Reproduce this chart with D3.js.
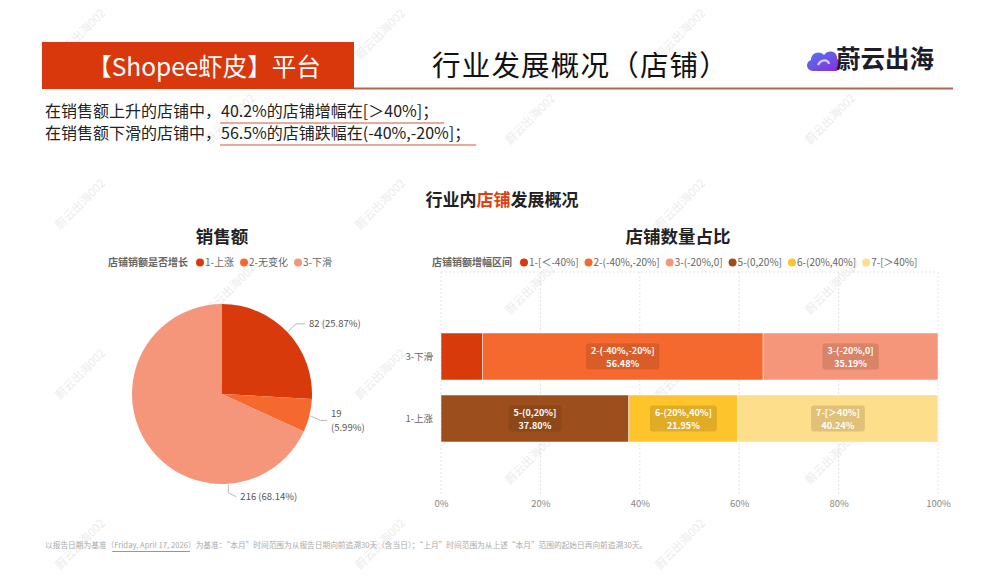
<!DOCTYPE html>
<html><head><meta charset="utf-8">
<script src="https://cdn.jsdelivr.net/npm/d3@7/dist/d3.min.js"></script>
<style>
body{margin:0;background:#fff;}
svg{display:block;font-family:"Noto Sans CJK SC","Noto Sans",sans-serif;}
</style></head>
<body><svg id="c" width="996" height="576"></svg>
<script>
// ---------- data ----------
const pieCategories = ["1-上涨", "2-无变化", "3-下滑"];
const pieValues = [82, 19, 216];
const pieColors = ["#d93a0b", "#f5692f", "#f5967a"];

const barRows = ["3-下滑", "1-上涨"];
const intervalNames = ["1-[＜-40%]", "2-(-40%,-20%]", "3-(-20%,0]", "5-(0,20%]", "6-(20%,40%]", "7-[＞40%]"];
const intervalColors = ["#d93a0b", "#f5692f", "#f5967a", "#9c4f1c", "#fdc52b", "#fddf8b"];
const barDown = [8.33, 56.48, 35.19, 0, 0, 0];   // 3-下滑
const barUp = [0, 0, 0, 37.80, 21.95, 40.24];    // 1-上涨
const xTicks = [0, 20, 40, 60, 80, 100];

const svg = d3.select("#c");
const FONT = '"Noto Sans CJK SC","Noto Sans",sans-serif';

// ---------- watermarks ----------
const wm = svg.append("g");
for (let r = 0; r < 7; r++) {
  for (let k = -1; k < 5; k++) {
    const x = 60 + k * 300 + (r % 2 ? 150 : 0);
    const y = 60 + r * 85;
    if (x < 5 || x + 60 > 990 || y > 570) continue;
    wm.append("text").attr("transform", `translate(${x},${y}) rotate(-45)`)
      .attr("font-size", 11.5).attr("fill", "#ececec").text("蔚云出海002");
  }
}

// ---------- header ----------
svg.append("rect").attr("x", 42).attr("y", 42).attr("width", 312).attr("height", 47).attr("fill", "#d9380c");
svg.append("text").attr("x", 204).attr("y", 76).attr("text-anchor", "middle").attr("fill", "#fff")
  .attr("font-size", 24.5).text("【Shopee虾皮】平台");
svg.append("line").attr("x1", 354).attr("x2", 953).attr("y1", 88.5).attr("y2", 88.5)
  .attr("stroke", "#b06650").attr("stroke-width", 2);
svg.append("text").attr("x", 432).attr("y", 76).attr("fill", "#111").attr("font-size", 28.5)
  .attr("letter-spacing", 1.2).text("行业发展概况（店铺）");

// logo
const defs = svg.append("defs");
const lg = defs.append("linearGradient").attr("id", "lg").attr("x1", "0").attr("y1", "0").attr("x2", "1").attr("y2", "1");
lg.append("stop").attr("offset", "0").attr("stop-color", "#4f7bf5");
lg.append("stop").attr("offset", "1").attr("stop-color", "#8a2bd6");
const logo = svg.append("g").attr("transform", "translate(805,46)");
logo.append("path").attr("fill", "url(#lg)")
  .attr("d", "M8,25 C1,25 0,16 6,14 C6,7 14,4 19,9 C23,3 33,5 32,13 C37,14 37,25 30,25 Z");
logo.append("path").attr("fill", "none").attr("stroke", "#d9ccff").attr("stroke-width", 2.2)
  .attr("d", "M13,19 C16,13 23,13 24,18");
svg.append("text").attr("x", 836).attr("y", 68).attr("font-size", 24.5).attr("font-weight", 700)
  .attr("fill", "#1c1c2a").text("蔚云出海");

// summary lines
const sumLines = [
  ["在销售额上升的店铺中，", "40.2%的店铺增幅在[＞40%]；"],
  ["在销售额下滑的店铺中，", "56.5%的店铺跌幅在(-40%,-20%]；"]
];
sumLines.forEach((ln, i) => {
  const y = 117 + i * 22;
  const t = svg.append("text").attr("x", 45).attr("y", y).attr("font-size", 16).attr("fill", "#222");
  t.append("tspan").text(ln[0]);
  t.append("tspan").text(ln[1]);
  const a = t.node().getSubStringLength(0, ln[0].length);
  const b = t.node().getComputedTextLength();
  svg.append("line").attr("x1", 45 + a - 1).attr("x2", 45 + b + 6).attr("y1", y + 6).attr("y2", y + 6)
    .attr("stroke", "#e08e7a").attr("stroke-width", 1.3);
});

// section title
const st = svg.append("text").attr("x", 502).attr("y", 206).attr("text-anchor", "middle")
  .attr("font-size", 17).attr("font-weight", 700).attr("fill", "#222");
st.append("tspan").text("行业内");
st.append("tspan").attr("fill", "#e0400f").text("店铺");
st.append("tspan").text("发展概况");

// ---------- legend helper ----------
function legend(x, y, title, names, colors, fs) {
  const g = svg.append("g");
  const tt = g.append("text").attr("x", x).attr("y", y).attr("font-size", fs).attr("font-weight", 700)
    .attr("fill", "#666").text(title);
  let cx = x + tt.node().getComputedTextLength() + 8;
  names.forEach((n, i) => {
    g.append("circle").attr("cx", cx + 4).attr("cy", y - 3.5).attr("r", 4).attr("fill", colors[i]);
    const t = g.append("text").attr("x", cx + 9).attr("y", y).attr("font-size", fs).attr("fill", "#666").text(n);
    cx += 9 + t.node().getComputedTextLength() + 6;
  });
}

// ---------- pie ----------
svg.append("text").attr("x", 222).attr("y", 243).attr("text-anchor", "middle").attr("font-size", 17.5)
  .attr("font-weight", 700).attr("fill", "#222").text("销售额");
legend(108, 266, "店铺销额是否增长", pieCategories, pieColors, 10);

const cx = 222, cy = 394, R = 90;
const total = d3.sum(pieValues);
const arcs = d3.pie().sort(null).value(d => d)(pieValues);
const arc = d3.arc().innerRadius(0).outerRadius(R);
const pg = svg.append("g").attr("transform", `translate(${cx},${cy})`);
pg.selectAll("path").data(arcs).join("path").attr("d", arc).attr("fill", (d, i) => pieColors[i]);

// labels
const labelAngle = a => a.index === 2 ? Math.PI - 0.07 : (a.startAngle + a.endAngle) / 2;
arcs.forEach((a, i) => {
  const ang = labelAngle(a);
  const p0 = [Math.sin(ang) * (R + 1), -Math.cos(ang) * (R + 1)];
  const pct = (pieValues[i] / total * 100).toFixed(2) + "%";
  let p1, p2, lines;
  if (i === 0) {
    p1 = [Math.sin(ang) * (R + 12), -Math.cos(ang) * (R + 12)];
    p2 = [p1[0] + 9, p1[1]];
    lines = [`${pieValues[i]} (${pct})`];
  } else if (i === 1) {
    p1 = [Math.sin(ang) * (R + 12), -Math.cos(ang) * (R + 12) + 2];
    p2 = [p1[0] + 6, p1[1]];
    lines = [`${pieValues[i]}`, `(${pct})`];
  } else {
    p1 = [p0[0], p0[1] + 8];
    p2 = [p1[0] + 8, p1[1] + 4];
    lines = [`${pieValues[i]} (${pct})`];
  }
  pg.append("polyline").attr("points", [p0, p1, p2].map(p => p.join(",")).join(" "))
    .attr("fill", "none").attr("stroke", "#bbb").attr("stroke-width", 1);
  const y0 = p2[1] + 3.5 - (lines.length - 1) * 7;
  lines.forEach((l, k) => pg.append("text").attr("font-size", 9.5).attr("fill", "#555")
    .attr("x", p2[0] + 4).attr("y", y0 + k * 14).text(l));
});

// ---------- stacked bar ----------
svg.append("text").attr("x", 678).attr("y", 243).attr("text-anchor", "middle").attr("font-size", 17.5)
  .attr("font-weight", 700).attr("fill", "#222").text("店铺数量占比");
legend(432, 266, "店铺销额增幅区间", intervalNames, intervalColors, 10);

const x = d3.scaleLinear().domain([0, 100]).range([441, 938]);
const y = d3.scaleBand().domain(barRows).range([318, 457]).paddingInner(0.242).paddingOuter(0.242);
const rowsData = { "3-下滑": barDown, "1-上涨": barUp };

// grid
const gridG = svg.append("g");
gridG.append("line").attr("x1", x(0)).attr("x2", x(100)).attr("y1", 272).attr("y2", 272)
  .attr("stroke", "#e4e4e4").attr("stroke-dasharray", "2,2");
xTicks.forEach(t => {
  gridG.append("line").attr("x1", x(t)).attr("x2", x(t)).attr("y1", 272).attr("y2", 494)
    .attr("stroke", "#e4e4e4").attr("stroke-dasharray", "2,2");
});
const axis = d3.axisBottom(x).tickValues(xTicks).tickFormat(d => d + "%").tickSize(0).tickPadding(0);
const ax = svg.append("g").attr("transform", "translate(0,500)").call(axis);
ax.select(".domain").remove();
ax.selectAll("text").attr("font-size", 9.5).attr("fill", "#888").attr("font-family", FONT).attr("dy", "0.71em");

const yAxis = d3.axisLeft(y).tickSize(0).tickPadding(8);
const ay = svg.append("g").attr("transform", `translate(${x(0)},0)`).call(yAxis);
ay.select(".domain").remove();
ay.selectAll("text").attr("font-size", 9.5).attr("fill", "#666").attr("font-family", FONT);

barRows.forEach(row => {
  const vals = rowsData[row];
  let acc = 0;
  vals.forEach((v, i) => {
    if (v <= 0) return;
    const x0 = x(acc), x1 = x(acc + v);
    acc += v;
    svg.append("rect").attr("x", x0).attr("y", y(row)).attr("width", x1 - x0).attr("height", y.bandwidth())
      .attr("fill", intervalColors[i]).attr("stroke", "#fff").attr("stroke-width", 0.5);
    if (v > 15) {
      const mx = (x0 + x1) / 2, my = y(row) + y.bandwidth() / 2;
      const lg2 = svg.append("g");
      const bg = lg2.append("rect");
      const t1 = lg2.append("text").attr("text-anchor", "middle").attr("font-size", 9)
        .attr("font-weight", 700).attr("fill", "#fff").attr("x", mx).attr("y", my - 2.5).text(intervalNames[i]);
      const t2 = lg2.append("text").attr("text-anchor", "middle").attr("font-size", 9)
        .attr("font-weight", 700).attr("fill", "#fff").attr("x", mx).attr("y", my + 10.5).text(v.toFixed(2) + "%");
      const w = Math.max(t1.node().getComputedTextLength(), t2.node().getComputedTextLength());
      bg.attr("x", mx - w / 2 - 5).attr("y", my - 13).attr("width", w + 10).attr("height", 26)
        .attr("rx", 3).attr("fill", "rgba(60,30,10,0.15)");
    }
  });
});

// ---------- footer ----------
const ft = svg.append("text").attr("x", 45).attr("y", 548).attr("font-size", 7.7).attr("fill", "#aaa");
const fparts = ["以报告日期为基准（", "Friday, April 17, 2026", "）为基准：“本月”时间范围为从报告日期向前追溯30天（含当日）；“上月”时间范围为从上述“本月”范围的起始日再向前追溯30天。"];
fparts.forEach(p => ft.append("tspan").text(p));
const fa = ft.node().getSubStringLength(0, fparts[0].length);
const fb = ft.node().getSubStringLength(0, fparts[0].length + fparts[1].length);
svg.append("line").attr("x1", 45 + fa - 2).attr("x2", 45 + fb + 2).attr("y1", 551.5).attr("y2", 551.5)
  .attr("stroke", "#d9805f").attr("stroke-width", 1.2);
</script></body></html>
